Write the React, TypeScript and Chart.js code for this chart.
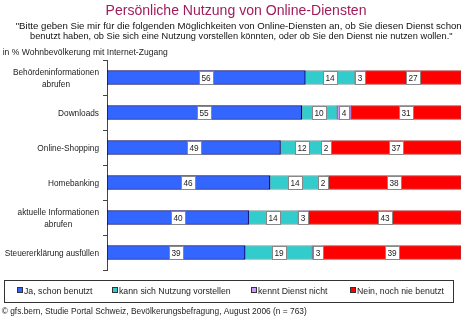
import React, { useEffect, useRef } from "react";
import { Chart, registerables } from "chart.js";

Chart.register(...registerables);

const categories: (string | string[])[] = [
  ["Behördeninformationen", "abrufen"],
  "Downloads",
  "Online-Shopping",
  "Homebanking",
  ["aktuelle Informationen", "abrufen"],
  "Steuererklärung ausfüllen",
];
const seriesNames = [
  "Ja, schon benutzt",
  "kann sich Nutzung vorstellen",
  "kennt Dienst nicht",
  "Nein, noch nie benutzt",
];
const usedValues = [56, 55, 49, 46, 40, 39];
const imaginableValues = [14, 10, 12, 14, 14, 19];
const unknownValues = [3, 4, 2, 2, 3, 3];
const neverValues = [27, 31, 37, 38, 43, 39];

const titleText = "Persönliche Nutzung von Online-Diensten";
const subtitleLines = [
  "\"Bitte geben Sie mir für die folgenden Möglichkeiten von Online-Diensten an, ob Sie diesen Dienst schon",
  "benutzt haben, ob Sie sich eine Nutzung vorstellen könnten, oder ob Sie den Dienst nie nutzen wollen.\"",
];
const noteText = "in % Wohnbevölkerung mit Internet-Zugang";
const footerText =
  "© gfs.bern, Studie Portal Schweiz, Bevölkerungsbefragung, August 2006 (n = 763)";

const seriesColors = ["#3366ff", "#33cccc", "#cc99ff", "#ff0000"];
const seriesBorders = ["#000066", "#7a9a9a", "#7a6a9a", "#b03030"];

const FONT = "'Liberation Sans', Arial, sans-serif";

// draw text squeezed/stretched horizontally to a given width
function fitText(
  ctx: CanvasRenderingContext2D,
  text: string,
  x: number,
  y: number,
  width: number,
  align: "left" | "center"
) {
  const w = ctx.measureText(text).width;
  const sx = width / w;
  ctx.save();
  ctx.textAlign = "left";
  const left = align === "center" ? x - width / 2 : x;
  ctx.translate(left, y);
  ctx.scale(sx, 1);
  ctx.fillText(text, 0, 0);
  ctx.restore();
}

function scaledText(
  ctx: CanvasRenderingContext2D,
  text: string,
  x: number,
  y: number,
  sx: number,
  align: "left" | "center" | "right"
) {
  const w = ctx.measureText(text).width * sx;
  const left = align === "center" ? x - w / 2 : align === "right" ? x - w : x;
  ctx.save();
  ctx.textAlign = "left";
  ctx.translate(left, y);
  ctx.scale(sx, 1);
  ctx.fillText(text, 0, 0);
  ctx.restore();
  return w;
}

const SX = 0.89;

const decorPlugin = {
  id: "decor",
  afterDraw(chart: any) {
    const ctx = chart.ctx as CanvasRenderingContext2D;
    ctx.save();
    ctx.textBaseline = "alphabetic";
    // title
    ctx.fillStyle = "#a01c5c";
    ctx.font = `15px ${FONT}`;
    fitText(ctx, titleText, 105.5, 15.3, 261, "left");
    // subtitle
    ctx.fillStyle = "#111";
    ctx.font = `9.6px ${FONT}`;
    fitText(ctx, subtitleLines[0], 15.7, 28.6, 446, "left");
    fitText(ctx, subtitleLines[1], 30, 39.4, 422.5, "left");
    // note
    ctx.font = `9.3px ${FONT}`;
    ctx.fillStyle = "#222";
    fitText(ctx, noteText, 2.7, 55, 165, "left");

    // y labels
    const yScale = chart.scales.y;
    ctx.font = `9.3px ${FONT}`;
    ctx.fillStyle = "#222";
    categories.forEach((c, i) => {
      const lines = Array.isArray(c) ? c : [c];
      const w = Math.max(...lines.map((l) => ctx.measureText(l).width * SX));
      const cx = 99 - w / 2;
      const cy = yScale.getPixelForValue(i) + 3.3;
      const lh = 11.7;
      lines.forEach((l, k) => {
        scaledText(ctx, l, cx, cy + (k - (lines.length - 1) / 2) * lh, SX, "center");
      });
    });

    // legend
    ctx.strokeStyle = "#333";
    ctx.lineWidth = 1;
    ctx.strokeRect(4.5, 280.5, 449, 22);
    const lx = [17, 112, 251, 350];
    ctx.font = `9.3px ${FONT}`;
    chart.data.datasets.forEach((ds: any, i: number) => {
      ctx.fillStyle = ds.backgroundColor;
      ctx.fillRect(lx[i], 287, 6, 6);
      ctx.strokeStyle = "#333";
      ctx.strokeRect(lx[i] + 0.5, 287.5, 5, 5);
      ctx.fillStyle = "#222";
      scaledText(ctx, ds.label, lx[i] + 7, 293.5, 0.94, "left");
    });

    // footer
    ctx.fillStyle = "#222";
    ctx.font = `9.3px ${FONT}`;
    fitText(ctx, footerText, 1.7, 314, 305, "left");
    ctx.restore();
  },
  afterDatasetsDraw(chart: any) {
    const ctx = chart.ctx as CanvasRenderingContext2D;
    ctx.save();
    ctx.font = `9.3px ${FONT}`;
    ctx.textBaseline = "alphabetic";
    chart.data.datasets.forEach((ds: any, di: number) => {
      const meta = chart.getDatasetMeta(di);
      meta.data.forEach((bar: any, i: number) => {
        const v = ds.data[i];
        const txt = String(v);
        const tw = ctx.measureText(txt).width * SX;
        const w = Math.round(tw + 6);
        const h = 14;
        const cx = Math.round((bar.x + bar.base) / 2);
        const cy = Math.round(bar.y);
        const left = Math.round(cx - w / 2);
        const top = cy - h / 2;
        ctx.fillStyle = "#fff";
        ctx.fillRect(left, top, w, h);
        ctx.strokeStyle = "#888";
        ctx.lineWidth = 1;
        ctx.strokeRect(left + 0.5, top + 0.5, w - 1, h - 1);
        ctx.fillStyle = "#222";
        scaledText(ctx, txt, cx, cy + 3.4, SX, "center");
      });
    });
    ctx.restore();
  },
};

export default function App() {
  const ref = useRef<HTMLCanvasElement>(null);
  useEffect(() => {
    if (!ref.current) return;
    const values = [usedValues, imaginableValues, unknownValues, neverValues];
    const chart = new Chart(ref.current, {
      type: "bar",
      data: {
        labels: categories as any,
        datasets: seriesNames.map((name, i) => ({
          label: name,
          data: values[i],
          backgroundColor: seriesColors[i],
          borderColor: seriesBorders[i],
          borderWidth: 1,
          borderSkipped: false,
          barThickness: 14,
        })),
      },
      options: {
        indexAxis: "y",
        responsive: false,
        animation: false,
        devicePixelRatio: 1,
        layout: { padding: { top: 60, bottom: 52, left: 0, right: 9 } },
        plugins: { legend: { display: false }, title: { display: false }, tooltip: { enabled: false } },
        scales: {
          x: { stacked: true, min: 0, max: 100, display: false },
          y: {
            stacked: true,
            grid: { drawOnChartArea: false, drawTicks: true, tickLength: 4, color: "#444", offset: true },
            border: { display: true, color: "#444" },
            ticks: { display: false },
            afterFit: (s: any) => {
              s.width = 107;
            },
          },
        },
      } as any,
      plugins: [decorPlugin],
    });
    return () => chart.destroy();
  }, []);
  return (
    <div style={{ position: "absolute", left: 0, top: 0, width: 470, height: 322, background: "#fff" }}>
      <canvas ref={ref} width={470} height={322} style={{ width: 470, height: 322 }} />
    </div>
  );
}
